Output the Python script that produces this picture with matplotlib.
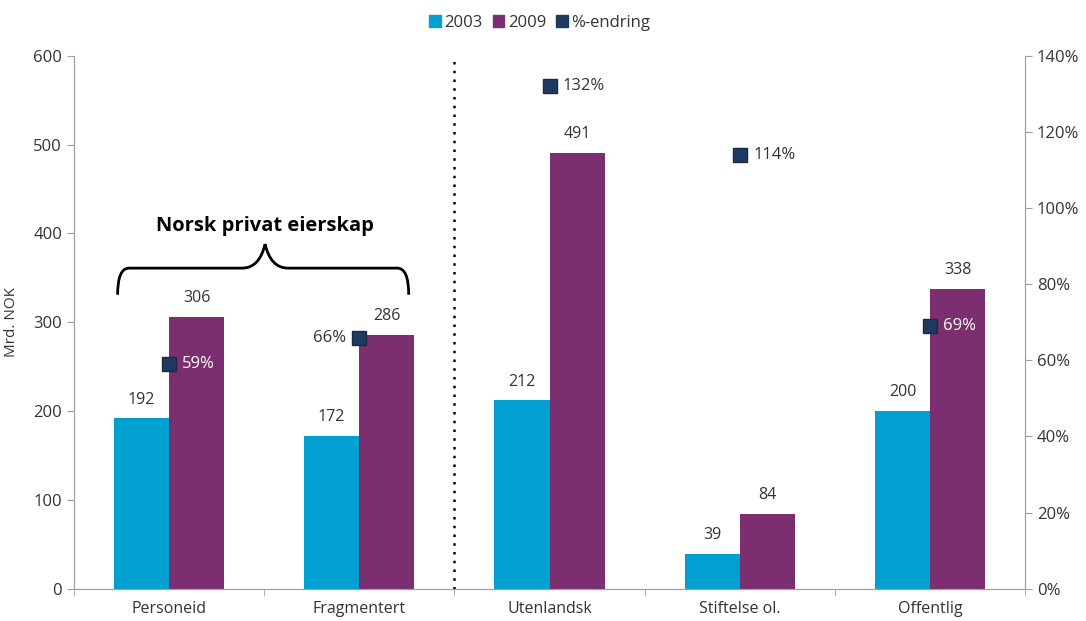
import matplotlib.pyplot as plt
from matplotlib.path import Path
from matplotlib.patches import PathPatch, Patch

categories = ["Personeid", "Fragmentert", "Utenlandsk", "Stiftelse ol.", "Offentlig"]
v2003 = [192, 172, 212, 39, 200]
v2009 = [306, 286, 491, 84, 338]
pct_change = [59, 66, 132, 114, 69]

c2003 = "#00A0D1"
c2009 = "#7B2F70"
cpct = "#1E3A62"
grey = "#A0A0A0"
txt = "#333333"

plt.rcParams['font.family'] = ['Open Sans', 'DejaVu Sans']

fig = plt.figure(figsize=(10.86, 6.21), dpi=100)
ax = fig.add_axes([0.068, 0.052, 0.876, 0.858])
ax2 = ax.twinx()

x = list(range(len(categories)))
w = 0.29
ax.bar([i - w / 2 for i in x], v2003, w, color=c2003)
ax.bar([i + w / 2 for i in x], v2009, w, color=c2009)
for i in x:
    ax.text(i - w / 2, v2003[i] + 12, str(v2003[i]), ha="center", va="bottom", fontsize=11.5, color=txt)
    ax.text(i + w / 2, v2009[i] + 12, str(v2009[i]), ha="center", va="bottom", fontsize=11.5, color=txt)

ax.set_xlim(-0.5, 4.5)
ax.set_ylim(0, 600)
ax.set_yticks(range(0, 601, 100))
ax.set_xticks(x)
ax.set_xticklabels(categories, fontsize=11.5, color=txt)
ax.set_xticks([-0.5, 0.5, 1.5, 2.5, 3.5, 4.5], minor=True)
ax.tick_params(axis="x", which="major", length=0, pad=9)
ax.tick_params(axis="x", which="minor", length=5, color=grey)
ax.tick_params(axis="y", labelsize=12, labelcolor=txt, color=grey, length=5)
ax.set_ylabel("Mrd. NOK", fontsize=11, color=txt, labelpad=10)

ax2.set_ylim(0, 140)
ax2.set_yticks(range(0, 141, 20))
ax2.set_yticklabels([f"{t}%" for t in range(0, 141, 20)])
ax2.tick_params(axis="y", labelsize=12, labelcolor=txt, color=grey, length=5)
ax2.plot(x, pct_change, ls="none", marker="s", markersize=10.5, color=cpct,
         markeredgecolor="#1a2a40", markeredgewidth=1, zorder=5)

label_pos = ["right", "left", "right", "right", "right"]
label_col = ["white", txt, txt, txt, "white"]
for i in x:
    if label_pos[i] == "right":
        ax2.text(i + 0.07, pct_change[i], f"{pct_change[i]}%", ha="left", va="center",
                 fontsize=12, color=label_col[i], zorder=6)
    else:
        ax2.text(i - 0.07, pct_change[i], f"{pct_change[i]}%", ha="right", va="center",
                 fontsize=12, color=label_col[i], zorder=6)

for a in (ax, ax2):
    a.spines["top"].set_visible(False)
    for s in ("left", "right", "bottom"):
        a.spines[s].set_color(grey)

ax.plot([1.5, 1.5], [0, 600], ls=(0, (1, 2.5)), color="black", lw=1.8)

# brace over the Norwegian private ownership groups
xl, xr, xm = -0.27, 1.26, 0.505
yb, yh, yt = 331, 361, 388
r = 0.06
verts = [(xl, yb), (xl, yh), (xl + r, yh),
         (xm - 0.12, yh), (xm - 0.03, yh), (xm, yt),
         (xm + 0.03, yh), (xm + 0.12, yh),
         (xr - r, yh), (xr, yh), (xr, yb)]
codes = [Path.MOVETO, Path.CURVE3, Path.CURVE3,
         Path.LINETO, Path.CURVE3, Path.CURVE3,
         Path.CURVE3, Path.CURVE3,
         Path.LINETO, Path.CURVE3, Path.CURVE3]
ax.add_patch(PathPatch(Path(verts, codes), fill=False, lw=2, color="black"))
ax.text(xm, 409, "Norsk privat eierskap", ha="center", va="center", fontsize=14.5,
        fontweight="bold", color="black")

handles = [Patch(color=c2003, label="2003"), Patch(color=c2009, label="2009"),
           Patch(color=cpct, label="%-endring")]
fig.legend(handles=handles, loc="upper center", bbox_to_anchor=(0.497, 1.0), ncol=3,
           frameon=False, fontsize=12, handlelength=0.7, handleheight=0.7,
           handletextpad=0.2, columnspacing=0.6, labelcolor=txt)

plt.savefig("out.png", dpi=100)
